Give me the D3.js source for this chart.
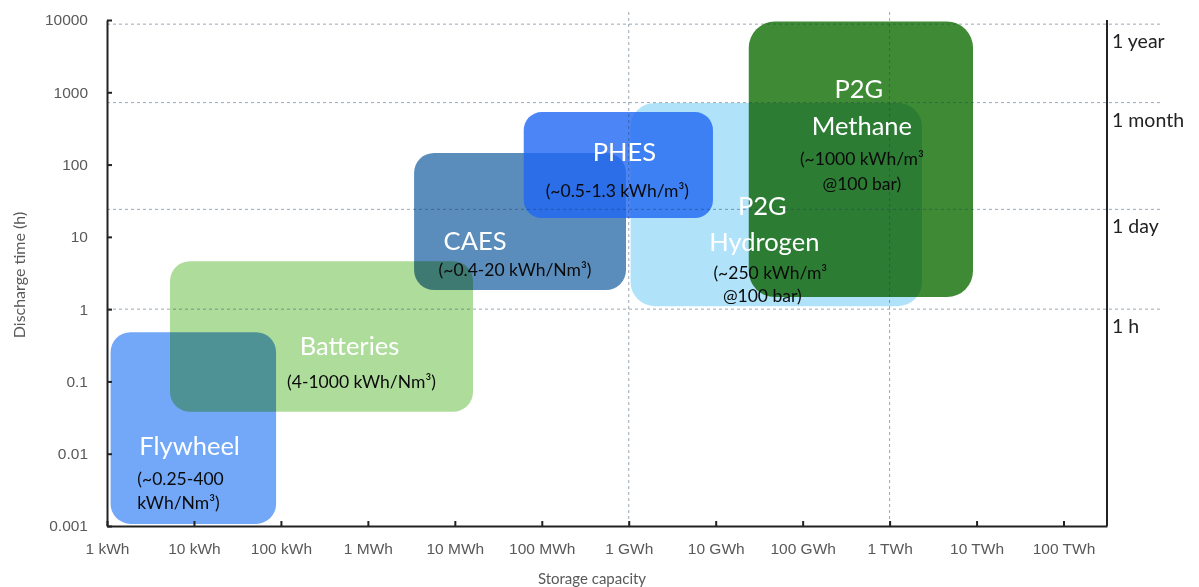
<!DOCTYPE html>
<html lang="en">
<head>
  <meta charset="UTF-8">
  <title>Storage capacity vs discharge time</title>
  <style>
    body { margin: 0; background: #fff; }
    svg { display: block; font-family: Lato, "Open Sans", sans-serif; }
    .tick text { fill: #595959; font-size: 15.5px; }
    .tick line, .domain { stroke: #222; stroke-width: 2; }
    .grid { stroke: #1f3f5f; stroke-opacity: 0.45; stroke-dasharray: 3,3; stroke-width: 1; }
  </style>
</head>
<body>
<div id="chart"></div>
<script src="https://cdnjs.cloudflare.com/ajax/libs/d3/7.8.5/d3.min.js"></script>
<script>
  // --- data ---
  const capacityTickValues = [1, 10, 100, 1e3, 1e4, 1e5, 1e6, 1e7, 1e8, 1e9, 1e10, 1e11]; // kWh
  const capacityTickLabels = ["1 kWh", "10 kWh", "100 kWh", "1 MWh", "10 MWh", "100 MWh",
    "1 GWh", "10 GWh", "100 GWh", "1 TWh", "10 TWh", "100 TWh"];
  const timeTickValues = [0.001, 0.01, 0.1, 1, 10, 100, 1000, 10000]; // h
  const timeTickLabels = ["0.001", "0.01", "0.1", "1", "10", "100", "1000", "10000"];
  const timeMarkHours = [1, 24, 720, 8760];
  const timeMarkLabels = ["1 h", "1 day", "1 month", "1 year"];
  const capacityGridValues = [1e6, 1e9];

  const technologies = ["Flywheel", "Batteries", "CAES", "P2G Methane", "P2G Hydrogen", "PHES"];
  const capMin = [1.1, 5.3, 3400, 2.4e7, 1.05e6, 62000];   // kWh
  const capMax = [88, 16200, 9.3e5, 9.1e9, 2.36e9, 9.3e6];
  const hoursMin = [0.00107, 0.038, 1.84, 1.47, 1.1, 18.2];
  const hoursMax = [0.48, 4.6, 145, 9500, 711, 533];
  const nameLines = [["Flywheel"], ["Batteries"], ["CAES"], ["P2G", "Methane"], ["P2G", "Hydrogen"], ["PHES"]];
  const densityLines = [["(~0.25-400", "kWh/Nm³)"], ["(4-1000 kWh/Nm³)"], ["(~0.4-20 kWh/Nm³)"],
    ["(~1000 kWh/m³", "@100 bar)"], ["(~250 kWh/m³", "@100 bar)"], ["(~0.5-1.3 kWh/m³)"]];

  // --- styles / layout ---
  const boxStyle = [
    {fill: "#72a8f7", opacity: 1, blend: "normal", r: 20},
    {fill: "#aedd9b", opacity: 1, blend: "multiply", r: 20},
    {fill: "#5a8dbb", opacity: 1, blend: "multiply", r: 20},
    {fill: "#3f8b35", opacity: 1, blend: "normal", r: 26},
    {fill: "#b0e3fa", opacity: 1, blend: "multiply", r: 24},
    {fill: "#1f66f2", opacity: 0.8, blend: "normal", r: 18}
  ];
  // label offsets (px) from each box centre: [dx, dy] for every line, anchor
  const labelLayout = [
    {anchor: "start", name: [[-54, 17]], dens: [[-56, 50], [-56, 74]]},
    {anchor: "middle", name: [[28, 8]], dens: [[40, 45]]},
    {anchor: "middle", name: [[-45, 19]], dens: [[-5, 48]]},
    {anchor: "middle", name: [[-2, -71], [1, -34]], dens: [[1, -1], [1, 24]]},
    {anchor: "middle", name: [[-14, 0], [-12, 36]], dens: [[-6, 68], [-14, 91]]},
    {anchor: "middle", name: [[6, -14]], dens: [[-1, 25]]}
  ];

  const W = 1199, H = 587;
  const x0 = 107, x1 = 1107, y0 = 526, y1 = 20;

  const svg = d3.select("#chart").append("svg")
    .attr("width", W)
    .attr("height", H);

  svg.append("rect").attr("width", W).attr("height", H).attr("fill", "#fff");

  const x = d3.scaleLog().domain([1, Math.pow(10, 11.5)]).range([x0, x1]);
  const y = d3.scaleLog().domain([0.001, 10000]).range([y0, y1]);

  // boxes
  const boxes = technologies.map((t, i) => ({
    name: t, x0: x(capMin[i]), x1: x(capMax[i]), yTop: y(hoursMax[i]), yBot: y(hoursMin[i]), s: boxStyle[i], i: i
  }));

  svg.selectAll(".box")
    .data(boxes)
    .enter()
    .append("rect")
    .attr("class", "box")
    .attr("x", d => d.x0)
    .attr("y", d => d.yTop)
    .attr("width", d => d.x1 - d.x0)
    .attr("height", d => d.yBot - d.yTop)
    .attr("rx", d => d.s.r)
    .attr("fill", d => d.s.fill)
    .attr("fill-opacity", d => d.s.opacity)
    .style("mix-blend-mode", d => d.s.blend);

  // grid lines
  svg.selectAll(".hgrid")
    .data(timeMarkHours)
    .enter()
    .append("line")
    .attr("class", "grid")
    .attr("x1", x0)
    .attr("x2", 1162)
    .attr("y1", d => y(d))
    .attr("y2", d => y(d));

  svg.selectAll(".vgrid")
    .data(capacityGridValues)
    .enter()
    .append("line")
    .attr("class", "grid")
    .attr("x1", d => x(d))
    .attr("x2", d => x(d))
    .attr("y1", 12)
    .attr("y2", y0);

  // axes
  svg.append("g")
    .attr("transform", "translate(" + x0 + ",0)")
    .call(d3.axisLeft(y)
      .tickValues(timeTickValues)
      .tickFormat((d, i) => timeTickLabels[i])
      .tickSizeInner(-5)
      .tickSizeOuter(0)
      .tickPadding(19));

  svg.append("g")
    .attr("transform", "translate(0," + y0 + ")")
    .call(d3.axisBottom(x)
      .tickValues(capacityTickValues)
      .tickFormat((d, i) => capacityTickLabels[i])
      .tickSizeInner(-5)
      .tickSizeOuter(0)
      .tickPadding(17));

  // right axis with time marks
  svg.append("line")
    .attr("x1", x1).attr("x2", x1)
    .attr("y1", y1).attr("y2", y0)
    .attr("stroke", "#222")
    .attr("stroke-width", 2);

  svg.selectAll(".timemark")
    .data(timeMarkHours)
    .enter()
    .append("text")
    .attr("class", "timemark")
    .attr("x", x1 + 5)
    .attr("y", d => y(d) + 24)
    .attr("fill", "#222")
    .attr("font-size", 19.5)
    .text((d, i) => timeMarkLabels[i]);

  // box labels
  boxes.forEach(b => {
    const cx = (b.x0 + b.x1) / 2, cy = (b.yTop + b.yBot) / 2;
    const lay = labelLayout[b.i];
    nameLines[b.i].forEach((t, k) => {
      svg.append("text")
        .attr("x", cx + lay.name[k][0])
        .attr("y", cy + lay.name[k][1])
        .attr("text-anchor", lay.anchor)
        .attr("dominant-baseline", "central")
        .attr("fill", "#fff")
        .attr("font-size", 25.5)
        .text(t);
    });
    densityLines[b.i].forEach((t, k) => {
      svg.append("text")
        .attr("x", cx + lay.dens[k][0])
        .attr("y", cy + lay.dens[k][1])
        .attr("text-anchor", lay.anchor)
        .attr("dominant-baseline", "central")
        .attr("fill", "#0a0a0a")
        .attr("font-size", 17.5)
        .text(t);
    });
  });

  // axis titles
  svg.append("text")
    .attr("transform", "translate(25," + ((y0 + y1) / 2 + 2) + ") rotate(-90)")
    .attr("text-anchor", "middle")
    .attr("fill", "#595959")
    .attr("font-size", 16)
    .text("Discharge time (h)");

  svg.append("text")
    .attr("x", 592)
    .attr("y", 584)
    .attr("text-anchor", "middle")
    .attr("fill", "#595959")
    .attr("font-size", 15)
    .text("Storage capacity");
</script>
</body>
</html>
